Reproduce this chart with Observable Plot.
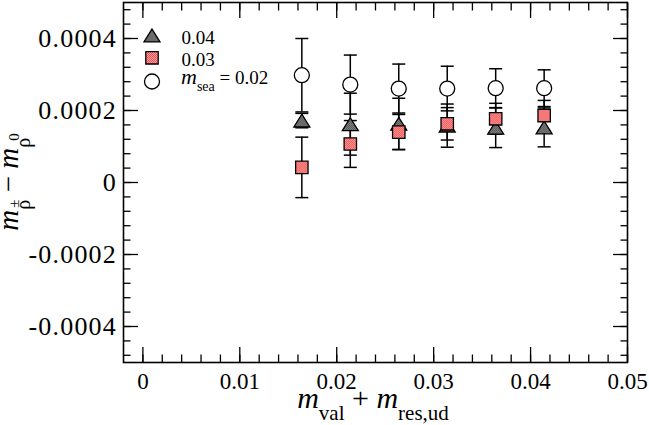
<!DOCTYPE html>
<html><head><meta charset="utf-8">
<script src="https://cdn.jsdelivr.net/npm/d3@7"></script>
<script src="https://cdn.jsdelivr.net/npm/@observablehq/plot@0.6"></script>
<style>body{margin:0;background:#fff} svg{display:block} svg text{font-family:'Liberation Serif','Times New Roman',Times,serif !important}</style>
</head><body><div id="chart"></div>
<script>
// x positions (m_val + m_res,ud)
const xVals = [0.0164, 0.0214, 0.0264, 0.0314, 0.0364, 0.0414];
// m_sea = 0.04 (triangles)
const y04 = [0.000172, 0.000162, 0.000163, 0.000158, 0.000152, 0.000153];
const e04 = [0.000020, 0.000086, 0.000071, 0.000060, 0.000055, 0.000054];
// m_sea = 0.03 (squares)
const y03 = [0.000042, 0.000107, 0.000140, 0.000163, 0.000177, 0.000186];
const e03 = [0.000084, 0.000065, 0.000049, 0.000045, 0.000043, 0.000042];
// m_sea = 0.02 (circles)
const y02 = [0.000298, 0.000272, 0.000261, 0.000261, 0.000262, 0.000262];
const e02 = [0.000102, 0.000082, 0.000068, 0.000062, 0.000054, 0.000051];

const xTicks = [0, 0.01, 0.02, 0.03, 0.04, 0.05];
const xTickLabels = ["0", "0.01", "0.02", "0.03", "0.04", "0.05"];
const yTicks = [-0.0004, -0.0002, 0, 0.0002, 0.0004];
const yTickLabels = ["-0.0004", "-0.0002", "0", "0.0002", "0.0004"];
const xMinor = d3.range(0, 26).map(i => i * 0.002);
const yMinor = d3.range(-12, 13).map(i => i * 0.00004);
const legendLabels = ["0.04", "0.03", "0.02"];

const mk = (ys, es) => xVals.map((x, i) => ({x, y: ys[i], lo: ys[i] - es[i], hi: ys[i] + es[i]}));
const d04 = mk(y04, e04), d03 = mk(y03, e03), d02 = mk(y02, e02);
const caps = d => d.flatMap(p => [{x: p.x, y: p.lo}, {x: p.x, y: p.hi}]);

const capSym = {draw(ctx, size) { const w = Math.sqrt(size / Math.PI); ctx.moveTo(-w, 0); ctx.lineTo(w, 0); }};
const triSym = {draw(ctx, size) { const r = Math.sqrt(size / Math.PI); const h = r * 0.8; ctx.moveTo(0, -h); ctx.lineTo(r, h); ctx.lineTo(-r, h); ctx.closePath(); }};

const serif = "'Liberation Serif', 'Times New Roman', Times, serif";
const fmt = (ticks, labels) => d => labels[ticks.findIndex(t => Math.abs(t - d) < 1e-12)] ?? "";
const bars = d => [
  Plot.ruleX(d, {x: "x", y1: "lo", y2: "hi", stroke: "black", strokeWidth: 1.5}),
  Plot.dot(caps(d), {x: "x", y: "y", symbol: capSym, r: 6.5, stroke: "black", strokeWidth: 1.5})
];
const ink = {stroke: "black", strokeWidth: 1.3};
const tk = {tickFormat: () => "", label: null, strokeWidth: 1.3};

const chart = Plot.plot({
  width: 649, height: 425,
  marginTop: 2, marginBottom: 63, marginLeft: 123, marginRight: 22,
  x: {domain: [-0.002, 0.05]},
  y: {domain: [-0.0005, 0.0005]},
  style: {fontFamily: serif, background: "white", color: "black"},
  marks: [
    Plot.axisX({anchor: "bottom", ticks: xTicks, tickSize: 0, tickPadding: 10, fontSize: 23, fontFamily: serif, fill: "black", tickFormat: fmt(xTicks, xTickLabels), label: null, className: "xtl"}),
    Plot.axisY({anchor: "left", ticks: yTicks, tickSize: 0, tickPadding: 6.5, fontSize: 26, fontFamily: serif, fill: "black", tickFormat: fmt(yTicks, yTickLabels), label: null, className: "ytl"}),
    Plot.axisX({anchor: "bottom", ticks: xTicks, tickSize: -15, ...tk}),
    Plot.axisX({anchor: "bottom", ticks: xMinor, tickSize: -7.5, ...tk}),
    Plot.axisX({anchor: "top", ticks: xTicks, tickSize: -15, ...tk}),
    Plot.axisX({anchor: "top", ticks: xMinor, tickSize: -7.5, ...tk}),
    Plot.axisY({anchor: "left", ticks: yTicks, tickSize: -15, ...tk}),
    Plot.axisY({anchor: "left", ticks: yMinor, tickSize: -7.5, ...tk}),
    Plot.axisY({anchor: "right", ticks: yTicks, tickSize: -15, ...tk}),
    Plot.axisY({anchor: "right", ticks: yMinor, tickSize: -7.5, ...tk}),
    Plot.frame({stroke: "black", strokeWidth: 1.6}),
    ...bars(d04), ...bars(d03), ...bars(d02),
    Plot.dot(d04, {x: "x", y: "y", symbol: triSym, r: 8, fill: "url(#graycheck)", ...ink}),
    Plot.dot(d03, {x: "x", y: "y", symbol: "square", r: 7, fill: "url(#redcheck)", ...ink}),
    Plot.dot(d02, {x: "x", y: "y", r: 7.5, fill: "white", ...ink}),
    // legend
    Plot.dot([legendLabels[0]], {frameAnchor: "top-left", dx: 28.5, dy: 33, symbol: triSym, r: 8, fill: "url(#graycheck)", ...ink}),
    Plot.dot([legendLabels[1]], {frameAnchor: "top-left", dx: 28.5, dy: 55.3, symbol: "square", r: 7, fill: "url(#redcheck)", ...ink}),
    Plot.dot([legendLabels[2]], {frameAnchor: "top-left", dx: 28.5, dy: 79, r: 7.5, fill: "white", ...ink}),
    Plot.text([legendLabels[0]], {frameAnchor: "top-left", dx: 58, dy: 35.5, text: d => d, textAnchor: "start", lineAnchor: "middle", fontSize: 19, fontFamily: serif, fill: "black"}),
    Plot.text([legendLabels[1]], {frameAnchor: "top-left", dx: 58, dy: 57.5, text: d => d, textAnchor: "start", lineAnchor: "middle", fontSize: 19, fontFamily: serif, fill: "black"})
  ]
});

const svg = d3.select(chart);
const defs = svg.insert("defs", ":first-child");
function checker(id, a, b) {
  const p = defs.append("pattern").attr("id", id).attr("width", 2).attr("height", 2).attr("patternUnits", "userSpaceOnUse");
  p.append("rect").attr("width", 2).attr("height", 2).attr("fill", a);
  p.append("rect").attr("width", 1).attr("height", 1).attr("fill", b);
  p.append("rect").attr("x", 1).attr("y", 1).attr("width", 1).attr("height", 1).attr("fill", b);
}
checker("redcheck", "#ffb4b4", "#ee3c3c");
checker("graycheck", "#a8a8a8", "#2e2e2e");

const label = () => svg.append("text").attr("font-family", serif).attr("fill", "black");
// legend third entry: m_sea = 0.02
const lt = label().attr("x", 181).attr("y", 84.3).attr("font-size", 19).attr("text-anchor", "start");
lt.append("tspan").attr("font-style", "italic").attr("font-size", 22).text("m");
lt.append("tspan").attr("font-size", 14).attr("dy", 7).text("sea");
lt.append("tspan").attr("dy", -7).text(" = " + legendLabels[2]);

// x axis label
const xl = label().attr("x", 373).attr("y", 408).attr("font-size", 30).attr("text-anchor", "middle");
xl.append("tspan").attr("font-style", "italic").text("m");
xl.append("tspan").attr("font-size", 21).attr("dy", 12).text("val");
xl.append("tspan").attr("dy", -12).text(" + ");
xl.append("tspan").attr("font-style", "italic").text("m");
xl.append("tspan").attr("font-size", 21).attr("dy", 12).text("res,ud");

// y axis label (rotated, reads bottom to top)
const yl = label().attr("transform", "translate(18,182) rotate(-90)").attr("font-size", 29).attr("text-anchor", "middle");
yl.append("tspan").attr("font-style", "italic").text("m");
yl.append("tspan").attr("font-size", 20).attr("dy", 12).text("ρ");
yl.append("tspan").attr("font-size", 15).attr("dx", -8).attr("dy", -11).text("±");
yl.append("tspan").attr("dy", -1).text(" − ");
yl.append("tspan").attr("font-style", "italic").text("m");
yl.append("tspan").attr("font-size", 20).attr("dy", 12).text("ρ");
yl.append("tspan").attr("font-size", 15).attr("dx", -3).attr("dy", -11).text("0");

svg.selectAll(".ytl text").style("letter-spacing", "1.2px");

document.getElementById("chart").appendChild(chart);
</script>
</body></html>
